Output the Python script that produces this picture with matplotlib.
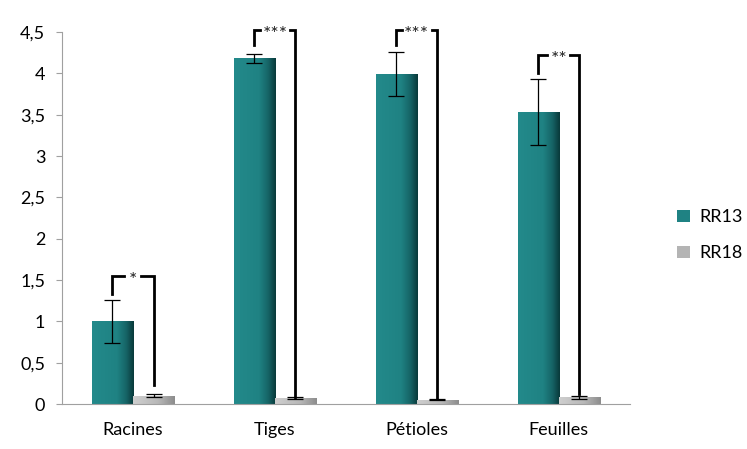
import matplotlib.pyplot as plt
import numpy as np
from matplotlib.ticker import FuncFormatter
from matplotlib.colors import LinearSegmentedColormap

plt.rcParams['font.family'] = ['Lato', 'DejaVu Sans']

# Data
categories = ["Racines", "Tiges", "Pétioles", "Feuilles"]
rr13 = [1.00, 4.18, 3.99, 3.53]
rr13_err = [0.26, 0.05, 0.27, 0.40]
rr18 = [0.10, 0.07, 0.05, 0.08]
rr18_err = [0.02, 0.01, 0.005, 0.02]
stars = ["*", "***", "***", "**"]
bracket_top = [1.55, 4.52, 4.52, 4.22]
bracket_left_low = [1.33, 4.34, 4.34, 4.01]
bracket_right_low = [0.23, 0.09, 0.07, 0.12]

teal_cmap = LinearSegmentedColormap.from_list(
    "teal", [(0, "#238a8b"), (0.6, "#1f8283"), (0.82, "#166466"), (1, "#083839")])
grey_cmap = LinearSegmentedColormap.from_list(
    "grey", [(0, "#cfcfcf"), (0.6, "#b8b8b8"), (1, "#8c8c8c")])

fig = plt.figure(figsize=(7.47, 4.49), dpi=100)
ax = fig.add_axes([0.083, 0.1002, 0.76, 0.8285])

x = np.arange(len(categories))
w = 0.29
b1 = ax.bar(x - w / 2, rr13, w, color="#1f8283", edgecolor="none", label="RR13")
b2 = ax.bar(x + w / 2, rr18, w, color="#b4b4b4", edgecolor="none", label="RR18")

# horizontal gradient shading, clipped to each bar
grad = np.linspace(0, 1, 256).reshape(1, -1)
for bars, cmap in [(b1, teal_cmap), (b2, grey_cmap)]:
    for p in bars:
        im = ax.imshow(grad, cmap=cmap, aspect="auto", interpolation="bicubic",
                       extent=[p.get_x(), p.get_x() + p.get_width(), 0, p.get_height()], zorder=1.5)
        im.set_clip_path(p)

ax.errorbar(x - w / 2, rr13, yerr=rr13_err, fmt="none", ecolor="black", elinewidth=0.9, capsize=6, capthick=0.9, zorder=3)
ax.errorbar(x + w / 2, rr18, yerr=rr18_err, fmt="none", ecolor="black", elinewidth=0.9, capsize=6, capthick=0.9, zorder=3)

# significance brackets
gaps = [0.06, 0.105, 0.105, 0.08]
for i in range(len(categories)):
    xl = x[i] - w / 2
    xr = x[i] + w / 2
    top = bracket_top[i]
    ax.plot([xl, xl, x[i] - gaps[i]], [bracket_left_low[i], top, top], color="black", lw=2, clip_on=False,
            solid_joinstyle="miter", zorder=4)
    ax.plot([x[i] + gaps[i], xr, xr], [top, top, bracket_right_low[i]], color="black", lw=2, clip_on=False,
            solid_joinstyle="miter", zorder=4)
    ax.text(x[i], top - 0.05, stars[i], ha="center", va="center", fontsize=14, clip_on=False,
            color="#222222")

ax.set_xlim(-0.5, len(categories) - 0.5)
ax.set_ylim(0, 4.5)
ax.set_yticks(np.arange(0, 4.51, 0.5))
ax.yaxis.set_major_formatter(FuncFormatter(lambda v, p: f"{v:g}".replace(".", ",")))
ax.set_xticks(x)
ax.set_xticklabels(categories)
ax.tick_params(axis="x", length=0, pad=13, labelsize=13)
ax.tick_params(axis="y", length=4, color="#a0a0a0", labelsize=13, pad=8)
for s in ["top", "right"]:
    ax.spines[s].set_visible(False)
for s in ["left", "bottom"]:
    ax.spines[s].set_color("#a0a0a0")

fig.legend(handles=[b1, b2], labels=["RR13", "RR18"], loc="upper left", bbox_to_anchor=(0.885, 0.57),
           frameon=False, fontsize=13, handlelength=0.7, handleheight=0.7, labelspacing=1.1, handletextpad=0.5)

fig.savefig("out.png", dpi=100)
